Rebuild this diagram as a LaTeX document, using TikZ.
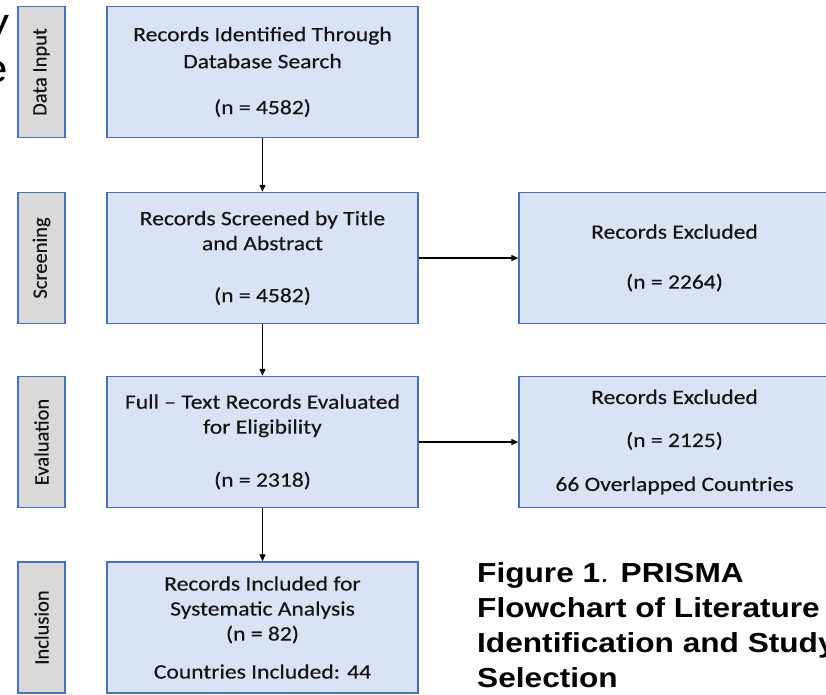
\documentclass[tikz,border=0pt]{standalone}
\usepackage{fontspec}
\setmainfont{Carlito}[FakeStretch=1.15, FakeBold=0.35]
\newfontfamily\sidefont{Carlito}[FakeBold=0.35]
\newfontfamily\capfont{Liberation Sans}[FakeStretch=1.15]
\usetikzlibrary{arrows.meta}
\definecolor{boxfill}{HTML}{DAE3F3}
\definecolor{boxedge}{HTML}{4A70B5}
\definecolor{stagefill}{HTML}{D9D9D9}
\definecolor{inktext}{HTML}{141414}
\tikzset{
  recbox/.style={draw=boxedge, fill=boxfill, line width=1.4pt, minimum width=311pt,
    minimum height=131pt, inner sep=0pt, align=center, text=inktext,
    font=\fontsize{20.5}{25}\selectfont},
  stagebox/.style={draw=boxedge, fill=stagefill, line width=1.4pt, rotate=90,
    minimum width=131pt, minimum height=47pt, inner sep=0pt, text=inktext,
    font=\sidefont\fontsize{20.5}{25}\selectfont},
  flow/.style={-{Triangle[length=7pt,width=6pt]}, line width=1.2pt, black},
}

\begin{document}
\begin{tikzpicture}[x=1pt, y=-1pt]
    \useasboundingbox (0,0) rectangle (826,695);
    \clip (0,0) rectangle (826,695);

    % cut-off letters at the left edge
    \node[font=\capfont\fontsize{40}{46}\selectfont, inner sep=0pt, anchor=base east] (fragy) at (10,37) {y};
    \node[font=\capfont\fontsize{40}{46}\selectfont, inner sep=0pt, anchor=base east] (frage) at (8,83) {e};

    % stages
    \node[stagebox] (sinput) at (41.5,72) {Data Input};
    \node[stagebox] (sscreen) at (41.5,258) {Screening};
    \node[stagebox] (seval) at (41.5,442) {Evaluation};
    \node[stagebox] (sincl) at (41.5,627.5) {Inclusion};

    % main column
    \node[recbox] (ident) at (262.5,72) {Records Identified Through\\[2pt] Database Search\\[21pt] (n = 4582)};
    \node[recbox] (screen) at (262.5,258) {Records Screened by Title\\ and Abstract\\[27pt] (n = 4582)};
    \node[recbox] (fulltext) at (262.5,442) {Full – Text Records Evaluated\\ for Eligibility\\[28pt] (n = 2318)};
    \node[recbox] (incl) at (262.5,627.5) {Records Included for\\ Systematic Analysis\\ (n = 82)\\[13pt] Countries Included: 44};

    % excluded
    \node[recbox] (excl1) at (674.5,258) {Records Excluded\\[25pt] (n = 2264)};
    \node[recbox] (excl2) at (674.5,442) {Records Excluded\\[18pt] (n = 2125)\\[19pt] 66 Overlapped Countries};

    \draw[flow] (ident) -- (screen);
    \draw[flow] (screen) -- (fulltext);
    \draw[flow] (fulltext) -- (incl);
    \draw[flow] (screen) -- (excl1);
    \draw[flow] (fulltext) -- (excl2);

    % caption
    \node[font=\capfont\fontsize{27.5}{35}\selectfont\bfseries, inner sep=0pt, anchor=north west, align=left] (caption) at (477,562)
        {Figure 1{\mdseries.} PRISMA\\ Flowchart of Literature\\ Identification and Study\\ Selection};
\end{tikzpicture}
\end{document}
